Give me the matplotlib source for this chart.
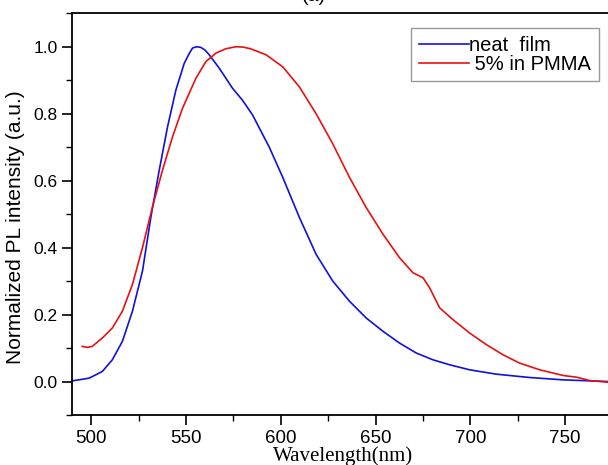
import numpy as np
import matplotlib.pyplot as plt
from matplotlib.ticker import MultipleLocator

# neat film (blue)
wl_neat = [490, 498.8, 505.8, 511.1, 516.4, 521.7, 527, 531.4, 535.8, 540.2, 544.6,
           549, 551.5, 553.4, 555.5, 557.8, 560, 562.2, 567.5, 574.5, 579.8, 585.1,
           593.9, 601, 609.8, 618.6, 627.4, 636.2, 645, 653.9, 662.6, 671.5, 680.2,
           689.1, 699.6, 713.7, 731.3, 749, 772.6, 780]
pl_neat = [0.002, 0.01, 0.03, 0.065, 0.12, 0.21, 0.33, 0.49, 0.63, 0.76, 0.87,
           0.95, 0.978, 0.996, 1.0, 0.998, 0.99, 0.976, 0.936, 0.876, 0.84, 0.796,
           0.70, 0.61, 0.49, 0.38, 0.30, 0.24, 0.19, 0.15, 0.115, 0.085, 0.065,
           0.05, 0.035, 0.022, 0.012, 0.005, 0.0, 0.0]

# 5% in PMMA (red)
wl_pmma = [495.2, 498, 500.5, 505.8, 511.1, 516.4, 521.7, 527, 532.2, 537.5, 542.8,
           548.1, 555.2, 560.5, 565.8, 571, 576.3, 580, 584, 592.2, 601, 609.8, 618.6,
           627.4, 636.2, 645, 653.9, 662.6, 669.7, 675, 678.5, 683.8, 690.8,
           699.6, 708.5, 717.2, 726, 736.6, 749, 756, 763, 772.6, 780]
pl_pmma = [0.105, 0.102, 0.105, 0.13, 0.16, 0.21, 0.29, 0.40, 0.52, 0.63, 0.73,
           0.816, 0.906, 0.956, 0.981, 0.994, 1.0, 0.999, 0.994, 0.976, 0.94, 0.88, 0.80,
           0.71, 0.61, 0.52, 0.44, 0.37, 0.325, 0.31, 0.28, 0.22, 0.185,
           0.145, 0.11, 0.08, 0.055, 0.035, 0.018, 0.013, 0.003, -0.002, -0.002]

fig = plt.figure(figsize=(6.08, 4.65), dpi=100)
ax = fig.add_axes([0.119, 0.1075, 0.904, 0.864])

ax.plot(wl_neat, pl_neat, color='#1010e0', lw=1.2, label='neat  film')
ax.plot(wl_pmma, pl_pmma, color='#e81010', lw=1.2, label=' 5% in PMMA')

ax.set_xlim(490, 780)
ax.set_ylim(-0.1, 1.1)
ax.xaxis.set_major_locator(MultipleLocator(50))
ax.xaxis.set_minor_locator(MultipleLocator(25))
ax.yaxis.set_major_locator(MultipleLocator(0.2))
ax.yaxis.set_minor_locator(MultipleLocator(0.1))
ax.tick_params(which='major', length=7, width=1.2)
ax.tick_params(which='minor', length=4, width=1.0)
ax.tick_params(axis='x', labelsize=13.5)
ax.tick_params(axis='y', labelsize=12.5)
for lab in ax.get_xticklabels() + ax.get_yticklabels():
    lab.set_fontfamily('Liberation Sans')
for sp in ax.spines.values():
    sp.set_linewidth(1.3)

ax.set_xlabel('Wavelength(nm)', fontfamily='Liberation Serif', fontsize=15)
ax.xaxis.set_label_coords(0.492, -0.077)
ax.set_ylabel('Normalized PL intensity (a.u.)', fontfamily='Liberation Sans', fontsize=15)
ax.yaxis.set_label_coords(-0.0864, 0.468)

fig.text(314 / 608, 1 - 5 / 465, '(a)', ha='center', va='bottom',
         fontfamily='Liberation Sans', fontsize=14)

leg = ax.legend(loc='upper right', bbox_to_anchor=(599 / 608, 1 - 28 / 465),
                bbox_transform=fig.transFigure, borderaxespad=0, fancybox=False,
                edgecolor='#808080', handlelength=2.5, handletextpad=0.0,
                borderpad=0.38, labelspacing=0.0,
                prop={'family': 'Liberation Sans', 'size': 14.5})
leg.get_frame().set_linewidth(1.0)

fig.savefig('out.png', dpi=100)
